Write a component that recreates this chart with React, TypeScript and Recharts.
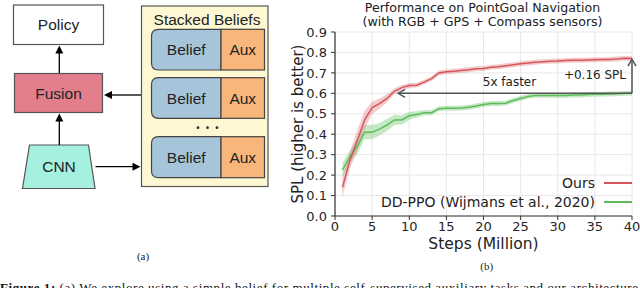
import React from 'react';
import {
  ComposedChart, Line, Area, XAxis, YAxis, CartesianGrid,
  ReferenceLine, ReferenceDot,
} from 'recharts';

// SPL curves, one point per million steps
const STEPS = [1, 2, 3, 4, 5, 6, 7, 8, 9, 10, 11, 12, 13, 14, 15, 16, 17, 18, 19, 20,
  21, 22, 23, 24, 25, 26, 27, 28, 29, 30, 31, 32, 33, 34, 35, 36, 37, 38, 39, 40];
const OURS = [0.14, 0.27, 0.37, 0.47, 0.53, 0.55, 0.575, 0.61, 0.628, 0.638,
  0.64, 0.655, 0.672, 0.7, 0.705, 0.708, 0.712, 0.715, 0.72, 0.722,
  0.728, 0.73, 0.735, 0.74, 0.745, 0.748, 0.752, 0.755, 0.757, 0.758,
  0.76, 0.762, 0.762, 0.763, 0.764, 0.765, 0.766, 0.768, 0.772, 0.77];
const OURS_SPREAD = [0.05, 0.04, 0.05, 0.045, 0.03, 0.025, 0.02, 0.015, 0.013, 0.012,
  0.012, 0.012, 0.012, 0.012, 0.012, 0.012, 0.012, 0.012, 0.012, 0.012,
  0.012, 0.012, 0.012, 0.012, 0.012, 0.012, 0.012, 0.012, 0.012, 0.012,
  0.012, 0.012, 0.012, 0.012, 0.012, 0.012, 0.012, 0.012, 0.012, 0.012];
const DDPPO = [0.225, 0.29, 0.34, 0.41, 0.41, 0.425, 0.445, 0.47, 0.47, 0.49,
  0.497, 0.505, 0.505, 0.525, 0.527, 0.527, 0.528, 0.532, 0.538, 0.545,
  0.55, 0.55, 0.552, 0.565, 0.575, 0.585, 0.59, 0.59, 0.59, 0.59,
  0.59, 0.592, 0.592, 0.594, 0.595, 0.596, 0.597, 0.598, 0.6, 0.602];
const DDPPO_SPREAD = [0.035, 0.03, 0.035, 0.035, 0.035, 0.03, 0.03, 0.025, 0.022, 0.02,
  0.015, 0.013, 0.012, 0.012, 0.012, 0.012, 0.012, 0.012, 0.012, 0.012,
  0.012, 0.012, 0.012, 0.012, 0.012, 0.012, 0.012, 0.012, 0.012, 0.012,
  0.012, 0.012, 0.012, 0.012, 0.012, 0.012, 0.012, 0.012, 0.012, 0.012];

const X_TICKS = [0, 5, 10, 15, 20, 25, 30, 35, 40];
const Y_TICKS = [0, 0.1, 0.2, 0.3, 0.4, 0.5, 0.6, 0.7, 0.8, 0.9];
const SERIES = [
  { name: 'Ours', color: '#d6555c' },
  { name: 'DD-PPO (Wijmans et al., 2020)', color: '#5cbd58' },
];

const rows = STEPS.map((s, i) => ({
  step: s,
  ours: OURS[i],
  oursBand: [OURS[i] - OURS_SPREAD[i], OURS[i] + OURS_SPREAD[i]],
  ddppo: DDPPO[i],
  ddppoBand: [DDPPO[i] - DDPPO_SPREAD[i], DDPPO[i] + DDPPO_SPREAD[i]],
}));

const FONT = '"DejaVu Sans", sans-serif';
const DIAG_FONT = '"Liberation Sans", Arial, sans-serif';
const SERIF = '"Liberation Serif", "Times New Roman", serif';

function arrowShape(props: any) {
  const { x1, y1, x2, y2 } = props;
  const dx = x2 - x1, dy = y2 - y1;
  const len = Math.hypot(dx, dy) || 1;
  const ux = dx / len, uy = dy / len;
  const bx = x2 - ux * 7, by = y2 - uy * 7;
  const px = -uy * 4, py = ux * 4;
  return (
    <g>
      <line x1={x1} y1={y1} x2={x2} y2={y2} stroke="#555" strokeWidth={1.5} />
      <polyline points={`${bx + px},${by + py} ${x2},${y2} ${bx - px},${by - py}`}
        fill="none" stroke="#555" strokeWidth={1.5} />
    </g>
  );
}

function ChartLegend() {
  return (
    <div style={{ position: 'absolute', right: 8, top: 174, fontFamily: FONT, fontSize: 14, color: '#222' }}>
      {SERIES.map((s) => (
        <div key={s.name} style={{ display: 'flex', alignItems: 'center', justifyContent: 'flex-end', height: 18.4 }}>
          <span>{s.name}</span>
          <div style={{ width: 28, borderTop: `2px solid ${s.color}`, marginLeft: 9 }} />
        </div>
      ))}
    </div>
  );
}

function Box({ x, y, w, h, fill, label }: { x: number; y: number; w: number; h: number; fill: string; label: string }) {
  return (
    <g>
      <rect x={x} y={y} width={w} height={h} fill={fill} stroke="#555" strokeWidth={1.2} />
      <text x={x + w / 2} y={y + h / 2} textAnchor="middle" dominantBaseline="central" fontSize={15.5}>{label}</text>
    </g>
  );
}

function BeliefRow({ y, h }: { y: number; h: number }) {
  const x0 = 151.5, xm = 221, x1 = 264.5, r = 7;
  const d = `M${xm},${y} L${x0 + r},${y} Q${x0},${y} ${x0},${y + r} L${x0},${y + h - r} Q${x0},${y + h} ${x0 + r},${y + h} L${xm},${y + h} Z`;
  return (
    <g>
      <path d={d} fill="#a7c5da" stroke="#444" strokeWidth={1.2} />
      <rect x={xm} y={y} width={x1 - xm} height={h} fill="#f8b67a" stroke="#444" strokeWidth={1.2} />
      <text x={(x0 + xm) / 2} y={y + h / 2} textAnchor="middle" dominantBaseline="central" fontSize={15.5}>Belief</text>
      <text x={(xm + x1) / 2} y={y + h / 2} textAnchor="middle" dominantBaseline="central" fontSize={15.5}>Aux</text>
    </g>
  );
}

function Diagram() {
  const head = (x: number, y: number, dir: 'up' | 'left' | 'right') => {
    if (dir === 'up') return <polygon points={`${x},${y} ${x - 4},${y + 8} ${x + 4},${y + 8}`} fill="#000" />;
    if (dir === 'left') return <polygon points={`${x},${y} ${x + 8},${y - 4} ${x + 8},${y + 4}`} fill="#000" />;
    return <polygon points={`${x},${y} ${x - 8},${y - 4} ${x - 8},${y + 4}`} fill="#000" />;
  };
  return (
    <g fontFamily={DIAG_FONT} fill="#222">
      <Box x={13.5} y={5} w={90} h={39.5} fill="#ffffff" label="Policy" />
      <Box x={14.5} y={73.5} w={88} h={39} fill="#e27e8b" label="Fusion" />
      <polygon points="29.5,145 88.5,145 95,188.5 22.5,188.5" fill="#a5f0df" stroke="#555" strokeWidth={1.2} />
      <text x={59} y={166.5} textAnchor="middle" dominantBaseline="central" fontSize={15.5}>CNN</text>

      <line x1={59.3} y1={73} x2={59.3} y2={50} stroke="#000" strokeWidth={1.3} />
      {head(59.3, 45.5, 'up')}
      <line x1={59.3} y1={145} x2={59.3} y2={118} stroke="#000" strokeWidth={1.3} />
      {head(59.3, 113.5, 'up')}
      <line x1={141} y1={95} x2={110} y2={95} stroke="#000" strokeWidth={1.3} />
      {head(104, 95, 'left')}
      <line x1={95.5} y1={166.7} x2={134} y2={166.7} stroke="#000" strokeWidth={1.3} />
      {head(140.5, 166.7, 'right')}

      <rect x={141.5} y={6} width={126.5} height={180.5} fill="#fdf8d2" stroke="#555" strokeWidth={1.2} />
      <text x={207} y={19.5} textAnchor="middle" dominantBaseline="central" fontSize={15.5}>Stacked Beliefs</text>
      <BeliefRow y={29.3} h={40.7} />
      <BeliefRow y={77.7} h={40.6} />
      <circle cx={198} cy={127.7} r={1.4} fill="#333" />
      <circle cx={207.5} cy={127.7} r={1.4} fill="#333" />
      <circle cx={217} cy={127.7} r={1.4} fill="#333" />
      <BeliefRow y={136.7} h={41} />
    </g>
  );
}

export default function App() {
  return (
    <div style={{ position: 'fixed', left: 0, top: 0, width: 640, height: 288, overflow: 'hidden', background: '#fff' }}>
      <svg width={640} height={288} style={{ position: 'absolute', left: 0, top: 0 }}>
        <Diagram />
        <g fontFamily={FONT} fontSize={12.6} fill="#222" textAnchor="middle">
          <text x={482.5} y={7} dominantBaseline="central">Performance on PointGoal Navigation</text>
          <text x={482.5} y={21} dominantBaseline="central">(with RGB + GPS + Compass sensors)</text>
        </g>
        <text x={143} y={255.5} fontFamily={SERIF} fontSize={11} textAnchor="middle" dominantBaseline="central" fill="#222">(a)</text>
        <text x={486.7} y={266} fontFamily={SERIF} fontSize={11} textAnchor="middle" dominantBaseline="central" fill="#222">(b)</text>
        <text x={0} y={292} fontFamily={SERIF} fontSize={13} fill="#111" textLength={638} lengthAdjust="spacing">
          <tspan fontWeight="bold">Figure 1: </tspan>(a) We explore using a simple belief for multiple self-supervised auxiliary tasks and our architecture
        </text>
      </svg>
      <div style={{ position: 'absolute', left: 290, top: 0, width: 350, height: 252 }}>
        <ComposedChart width={350} height={252} data={rows} margin={{ top: 32, right: 8, left: 5, bottom: 0 }}>
          <CartesianGrid stroke="#e8e8e8" strokeWidth={1} />
          <XAxis
            dataKey="step" type="number" domain={[0, 40]} ticks={X_TICKS} height={36} interval={0}
            tick={{ fontFamily: FONT, fontSize: 13, fill: '#262626' }}
            tickSize={4} tickMargin={2}
            axisLine={{ stroke: '#333', strokeWidth: 1.2 }} tickLine={{ stroke: '#333' }}
            label={{ value: 'Steps (Million)', position: 'insideBottom', offset: 3.4, style: { fontFamily: FONT, fontSize: 15.5, fontWeight: 'normal', fill: '#222' } }}
          />
          <YAxis
            type="number" domain={[0, 0.9]} ticks={Y_TICKS} width={40} interval={0}
            tickFormatter={(v: number) => v.toFixed(1)}
            tick={{ fontFamily: FONT, fontSize: 13, fill: '#262626' }}
            tickSize={4} tickMargin={4}
            axisLine={{ stroke: '#333', strokeWidth: 1.2 }} tickLine={{ stroke: '#333' }}
            label={{ value: 'SPL (higher is better)', angle: -90, position: 'insideLeft', offset: 2.5, style: { fontFamily: FONT, fontSize: 15, fill: '#222', textAnchor: 'middle' } }}
          />
          <Area dataKey="ddppoBand" type="linear" stroke="none" fill={SERIES[1].color} fillOpacity={0.35} isAnimationActive={false} />
          <Line dataKey="ddppo" type="linear" stroke={SERIES[1].color} strokeWidth={1.5} dot={false} activeDot={false} isAnimationActive={false} />
          <Area dataKey="oursBand" type="linear" stroke="none" fill={SERIES[0].color} fillOpacity={0.3} isAnimationActive={false} />
          <Line dataKey="ours" type="linear" stroke={SERIES[0].color} strokeWidth={1.5} dot={false} activeDot={false} isAnimationActive={false} />
          <ReferenceLine segment={[{ x: 40, y: 0.6 }, { x: 8.5, y: 0.6 }]} shape={arrowShape} />
          <ReferenceLine segment={[{ x: 40, y: 0.6 }, { x: 40, y: 0.767 }]} shape={arrowShape} />
          <ReferenceDot x={23.5} y={0.656} r={0} stroke="none"
            label={{ value: '5x faster', position: 'center', style: { fontFamily: FONT, fontSize: 12, fill: '#222' } }} />
          <ReferenceDot x={39.2} y={0.693} r={0} stroke="none"
            label={{ value: '+0.16 SPL', position: 'left', offset: 0, style: { fontFamily: FONT, fontSize: 12, fill: '#222' } }} />
        </ComposedChart>
        <ChartLegend />
      </div>
    </div>
  );
}
